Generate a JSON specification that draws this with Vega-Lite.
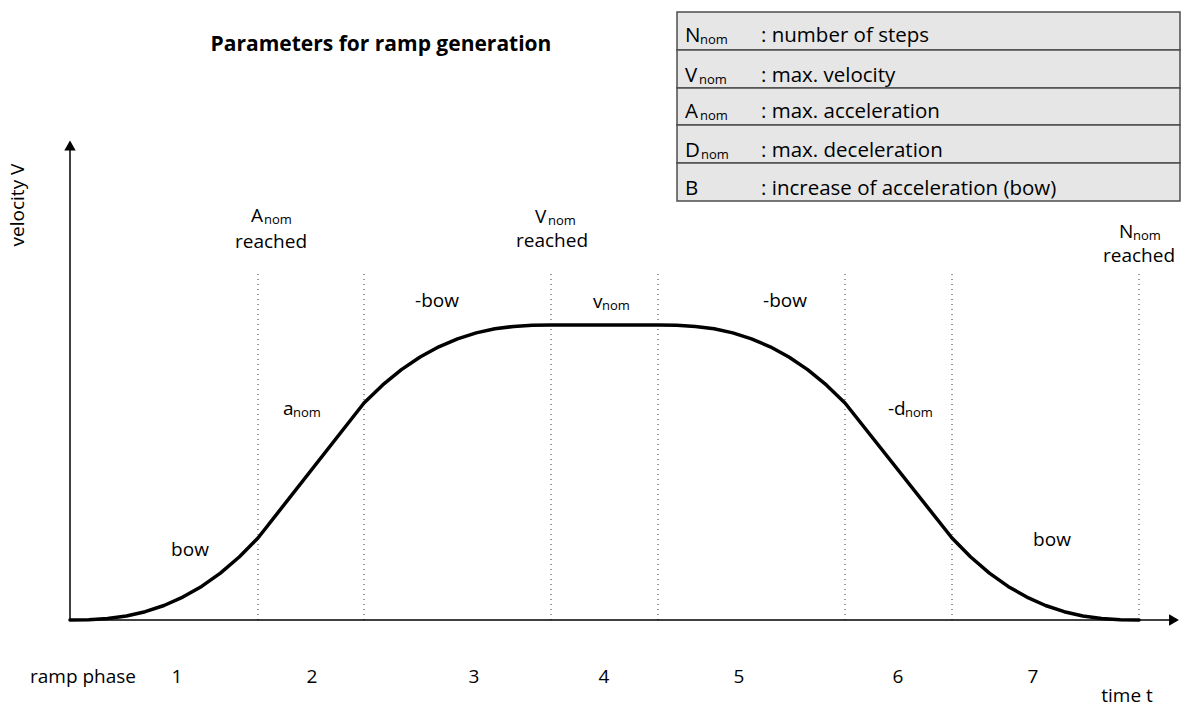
{
  "$schema": "https://vega.github.io/schema/vega-lite/v6.json",
  "width": 1188,
  "height": 709,
  "padding": 0,
  "autosize": {"type": "fit", "contains": "padding"},
  "background": "white",
  "config": {"view": {"stroke": null}, "font": "Open Sans", "text": {"font": "Open Sans"}},
  "datasets": {
    "curve": [
      {"t": 0, "V": 0}, {"t": 18.8, "V": 0.3}, {"t": 37.6, "V": 1.5}, {"t": 56.4, "V": 4}, {"t": 75.2, "V": 8.3}, {"t": 94, "V": 14.5}, {"t": 112.8, "V": 22.9}, {"t": 131.6, "V": 33.6}, {"t": 150.4, "V": 46.9}, {"t": 169.2, "V": 63}, {"t": 188, "V": 82},
      {"t": 294, "V": 217},
      {"t": 312.7, "V": 235.1}, {"t": 331.4, "V": 250.4}, {"t": 350.1, "V": 263}, {"t": 368.8, "V": 273.2}, {"t": 387.5, "V": 281.2}, {"t": 406.2, "V": 287.1}, {"t": 424.9, "V": 291.2}, {"t": 443.6, "V": 293.6}, {"t": 462.3, "V": 294.8}, {"t": 481, "V": 295},
      {"t": 588, "V": 295},
      {"t": 606.7, "V": 294.8}, {"t": 625.4, "V": 293.6}, {"t": 644.1, "V": 291.2}, {"t": 662.8, "V": 287.1}, {"t": 681.5, "V": 281.2}, {"t": 700.2, "V": 273.2}, {"t": 718.9, "V": 263}, {"t": 737.6, "V": 250.4}, {"t": 756.3, "V": 235.1}, {"t": 775, "V": 217},
      {"t": 882, "V": 82},
      {"t": 900.7, "V": 63}, {"t": 919.4, "V": 46.9}, {"t": 938.1, "V": 33.6}, {"t": 956.8, "V": 22.9}, {"t": 975.5, "V": 14.5}, {"t": 994.2, "V": 8.3}, {"t": 1012.9, "V": 4}, {"t": 1031.6, "V": 1.5}, {"t": 1050.3, "V": 0.3}, {"t": 1069, "V": 0}
    ],
    "dotted": [
      {"t": 188, "V": 0, "V2": 348}, {"t": 294, "V": 0, "V2": 348}, {"t": 481, "V": 0, "V2": 348}, {"t": 588, "V": 0, "V2": 348}, {"t": 775, "V": 0, "V2": 348}, {"t": 882, "V": 0, "V2": 348}, {"t": 1069, "V": 0, "V2": 348}
    ],
    "axes": [
      {"t": 0, "V": 0, "t2": 0, "V2": 470},
      {"t": 0, "V": 0, "t2": 1100, "V2": 0}
    ],
    "arrowUp": [{"t": 0, "V": 474.5}],
    "arrowRight": [{"t": 1104, "V": 0}],
    "tableRows": [
      {"t": 607, "t2": 1110, "V": 608, "V2": 570},
      {"t": 607, "t2": 1110, "V": 570, "V2": 532},
      {"t": 607, "t2": 1110, "V": 532, "V2": 495},
      {"t": 607, "t2": 1110, "V": 495, "V2": 457},
      {"t": 607, "t2": 1110, "V": 457, "V2": 419}
    ],
    "labelsCenter": [
      {"t": 201, "V": 372, "text": "reached"},
      {"t": 482, "V": 373, "text": "reached"},
      {"t": 1069, "V": 358, "text": "reached"},
      {"t": 367, "V": 313, "text": "-bow"},
      {"t": 715, "V": 313, "text": "-bow"},
      {"t": 120, "V": 64, "text": "bow"},
      {"t": 982, "V": 74, "text": "bow"},
      {"t": 107, "V": -63, "text": "1"},
      {"t": 242, "V": -63, "text": "2"},
      {"t": 404, "V": -63, "text": "3"},
      {"t": 534, "V": -63, "text": "4"},
      {"t": 669, "V": -63, "text": "5"},
      {"t": 828, "V": -63, "text": "6"},
      {"t": 963, "V": -63, "text": "7"},
      {"t": 1057, "V": -82, "text": "time t"}
    ],
    "labelsLeft": [
      {"t": -40, "V": -63, "text": "ramp phase"},
      {"t": 181, "V": 398, "text": "A"},
      {"t": 465, "V": 397, "text": "V"},
      {"t": 1049, "V": 382, "text": "N"},
      {"t": 523, "V": 312, "text": "v"},
      {"t": 213, "V": 205, "text": "a"},
      {"t": 818, "V": 205, "text": "-d"}
    ],
    "tableText": [
      {"t": 615, "V": 578, "text": "N"},
      {"t": 615, "V": 538, "text": "V"},
      {"t": 615, "V": 502, "text": "A"},
      {"t": 615, "V": 463, "text": "D"},
      {"t": 615, "V": 425, "text": "B"},
      {"t": 691, "V": 578, "text": ": number of steps"},
      {"t": 691, "V": 538, "text": ": max. velocity"},
      {"t": 691, "V": 502, "text": ": max. acceleration"},
      {"t": 691, "V": 463, "text": ": max. deceleration"},
      {"t": 691, "V": 425, "text": ": increase of acceleration (bow)"}
    ],
    "subs": [
      {"t": 194, "V": 396, "text": "nom"},
      {"t": 478, "V": 395, "text": "nom"},
      {"t": 1063, "V": 380, "text": "nom"},
      {"t": 532, "V": 310, "text": "nom"},
      {"t": 223, "V": 203, "text": "nom"},
      {"t": 835, "V": 203, "text": "nom"},
      {"t": 630, "V": 576, "text": "nom"},
      {"t": 629, "V": 536, "text": "nom"},
      {"t": 630, "V": 500, "text": "nom"},
      {"t": 631, "V": 461, "text": "nom"}
    ],
    "title": [{"t": 311, "V": 569, "text": "Parameters for ramp generation"}],
    "yTitle": [{"t": -52, "V": 415, "text": "velocity V"}]
  },
  "encoding": {
    "x": {"field": "t", "type": "quantitative", "scale": {"domain": [-70, 1118], "nice": false, "zero": false}, "axis": null},
    "y": {"field": "V", "type": "quantitative", "scale": {"domain": [-89, 620], "nice": false, "zero": false}, "axis": null}
  },
  "layer": [
    {
      "data": {"name": "tableRows"},
      "mark": {"type": "rect", "fill": "#e6e6e6", "stroke": "#4d4d4d", "strokeWidth": 1.5},
      "encoding": {"x2": {"field": "t2"}, "y2": {"field": "V2"}}
    },
    {
      "data": {"name": "dotted"},
      "mark": {"type": "rule", "color": "#333333", "strokeWidth": 1, "strokeDash": [1, 4]},
      "encoding": {"y2": {"field": "V2"}}
    },
    {
      "data": {"name": "axes"},
      "mark": {"type": "rule", "color": "black", "strokeWidth": 1.5},
      "encoding": {"x2": {"field": "t2"}, "y2": {"field": "V2"}}
    },
    {
      "data": {"name": "arrowUp"},
      "mark": {"type": "point", "shape": "triangle-up", "size": 130, "filled": true, "color": "black", "opacity": 1}
    },
    {
      "data": {"name": "arrowRight"},
      "mark": {"type": "point", "shape": "triangle-right", "size": 130, "filled": true, "color": "black", "opacity": 1}
    },
    {
      "data": {"name": "curve"},
      "mark": {"type": "line", "color": "black", "strokeWidth": 3.5, "interpolate": "linear", "strokeCap": "round", "strokeJoin": "round"}
    },
    {
      "data": {"name": "labelsCenter"},
      "mark": {"type": "text", "align": "center", "baseline": "alphabetic", "fontSize": 19, "color": "black"},
      "encoding": {"text": {"field": "text"}}
    },
    {
      "data": {"name": "labelsLeft"},
      "mark": {"type": "text", "align": "left", "baseline": "alphabetic", "fontSize": 19, "color": "black"},
      "encoding": {"text": {"field": "text"}}
    },
    {
      "data": {"name": "tableText"},
      "mark": {"type": "text", "align": "left", "baseline": "alphabetic", "fontSize": 20.5, "color": "black"},
      "encoding": {"text": {"field": "text"}}
    },
    {
      "data": {"name": "subs"},
      "mark": {"type": "text", "align": "left", "baseline": "alphabetic", "fontSize": 13, "color": "black"},
      "encoding": {"text": {"field": "text"}}
    },
    {
      "data": {"name": "title"},
      "mark": {"type": "text", "align": "center", "baseline": "alphabetic", "fontSize": 21, "fontWeight": "bold", "color": "black"},
      "encoding": {"text": {"field": "text"}}
    },
    {
      "data": {"name": "yTitle"},
      "mark": {"type": "text", "align": "center", "baseline": "middle", "angle": 270, "fontSize": 19, "color": "black"},
      "encoding": {"text": {"field": "text"}}
    }
  ]
}
